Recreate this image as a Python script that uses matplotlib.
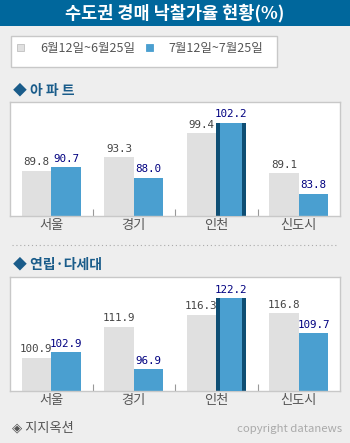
import matplotlib
matplotlib.use("Agg")
import matplotlib.pyplot as plt
from matplotlib.patches import Rectangle
from matplotlib.lines import Line2D

plt.rcParams['font.family'] = ['Noto Sans CJK KR', 'DejaVu Sans']

categories = ['서울', '경기', '인천', '신도시']
series_names = ['6월12일~6월25일', '7월12일~7월25일']
apt_june = [89.8, 93.3, 99.4, 89.1]
apt_july = [90.7, 88.0, 102.2, 83.8]
villa_june = [100.9, 111.9, 116.3, 116.8]
villa_july = [102.9, 96.9, 122.2, 109.7]
title = '수도권 경매 낙찰가율 현황(%)'
panel_titles = ['◆ 아 파 트', '◆ 연립·다세대']
highlight = 2
source = '◈ 지지옥션'
credit = 'copyright datanews'

W, H = 350, 443
BG = '#EEEEEE'
GRAY = '#E0E0E0'
BLUE = '#4A9FD0'
DARK = '#0E4E74'
TITLEBAR = '#00679C'

fig = plt.figure(figsize=(W / 100, H / 100), dpi=100, facecolor=BG)

def fx(px):
    return px / W

def fy(py):
    return 1 - py / H

# title bar
fig.patches.append(Rectangle((0, fy(26)), 1, 26 / H, transform=fig.transFigure,
                             facecolor=TITLEBAR, edgecolor='none', zorder=0))
fig.text(0.5, fy(13), title, color='white', fontsize=12.6, fontweight='bold',
         ha='center', va='center')

# legend box
fig.patches.append(Rectangle((fx(10.5), fy(66.5)), fx(266), 31 / H, transform=fig.transFigure,
                             facecolor='white', edgecolor='#C8C8C8', linewidth=1, zorder=0))
for i, (name, col, sx, tx) in enumerate(zip(series_names, [GRAY, BLUE], [17, 146], [40, 168])):
    fig.patches.append(Rectangle((fx(sx), fy(50.5)), fx(7), 7 / H, transform=fig.transFigure,
                                 facecolor=col, edgecolor='#C0C0C0' if i == 0 else col,
                                 linewidth=0.6, zorder=2))
    fig.text(fx(tx), fy(48.5), name, color='#555555', fontsize=9.0, ha='left', va='center')

def panel(ax, june, july, ymin, ymax):
    ax.set_facecolor('white')
    x = list(range(len(categories)))
    w = 0.36
    xg = [i - w / 2 for i in x]
    xb = [i + w / 2 for i in x]
    ax.bar(xg, june, width=w, bottom=0, color=GRAY, zorder=2)
    for i in x:
        if i == highlight:
            ax.bar(xb[i], july[i], width=w, color=DARK, zorder=2)
            ax.bar(xb[i], july[i], width=w - 0.097, color=BLUE, zorder=3)
        else:
            ax.bar(xb[i], july[i], width=w, color=BLUE, zorder=2)
    for i in x:
        ax.annotate(f'{june[i]:.1f}', (xg[i], june[i]), xytext=(0, 2.5), textcoords='offset points',
                    ha='center', va='bottom', fontsize=7.8, color='#444444',
                    family='DejaVu Sans Mono')
        ax.annotate(f'{july[i]:.1f}', (xb[i], july[i]), xytext=(0, 2.5), textcoords='offset points',
                    ha='center', va='bottom', fontsize=7.8, color='#000080',
                    family='DejaVu Sans Mono')
    ax.set_xlim(-0.5, len(categories) - 0.5)
    ax.set_ylim(ymin, ymax)
    ax.set_xticks(x)
    ax.set_xticklabels(categories, fontsize=9.5, color='#555555')
    ax.tick_params(axis='x', which='major', length=0, pad=2)
    ax.set_xticks([i + 0.5 for i in x[:-1]], minor=True)
    ax.tick_params(axis='x', which='minor', direction='in', length=5, color='#999999', width=0.8)
    ax.set_yticks([])
    for s in ax.spines.values():
        s.set_color('#C8C8C8')
        s.set_linewidth(1)

# panel 1
fig.text(fx(13), fy(91), panel_titles[0], color='#1A5C8A', fontsize=10, fontweight='bold',
         ha='left', va='center')
ax1 = fig.add_axes([fx(10), fy(216), fx(330), 114.3 / H])
panel(ax1, apt_june, apt_july, 78.1, 107.6)

# separator
fig.add_artist(Line2D([fx(12), fx(337)], [fy(245), fy(245)], transform=fig.transFigure,
                      color='#AAAAAA', linewidth=0.8, linestyle=(0, (1, 2.5))))

# panel 2
fig.text(fx(13), fy(264), panel_titles[1], color='#1A5C8A', fontsize=10, fontweight='bold',
         ha='left', va='center')
ax2 = fig.add_axes([fx(10), fy(391), fx(330), 114.3 / H])
panel(ax2, villa_june, villa_july, 89.06, 129.8)

fig.text(fx(12), fy(428), source, color='#555555', fontsize=9.5, ha='left', va='center')
fig.text(fx(342), fy(429), credit, color='#AAAAAA', fontsize=8.2, ha='right', va='center')

fig.savefig('out.png', dpi=100, facecolor=BG)
